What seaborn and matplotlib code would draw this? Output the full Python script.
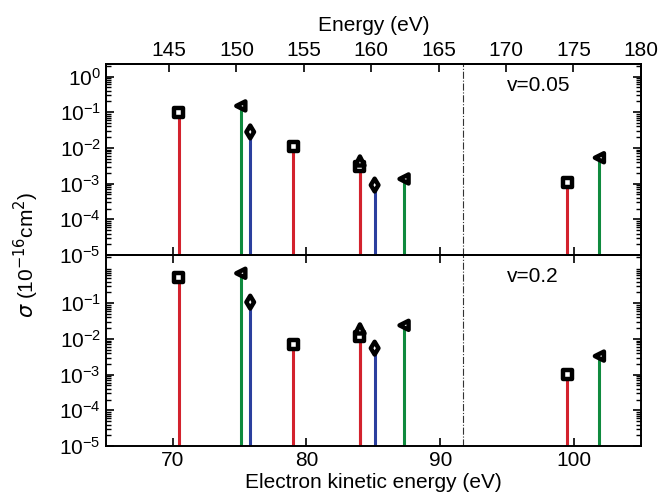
import numpy as np
import pandas as pd
import matplotlib
matplotlib.use('Agg')
import matplotlib.pyplot as plt
import matplotlib.ticker as mticker
import seaborn as sns

# line positions (electron kinetic energy, eV) and which series they belong to
kinetic = [70.45, 75.1, 75.8, 79.0, 84.0, 84.0, 85.1, 87.3, 99.5, 101.9]
series = ['sq', 'tri', 'dia', 'sq', 'sq', 'up', 'dia', 'tri', 'sq', 'tri']

# cross sections (10^-16 cm^2) for the two velocities
sigma_v005 = [0.10, 0.15, 0.028, 0.011, 0.0031, 0.0043, 0.00091, 0.00135, 0.0011, 0.0053]
sigma_v02 = [0.54, 0.69, 0.107, 0.0068, 0.012, 0.019, 0.0055, 0.024, 0.00098, 0.0033]

panel_labels = ['v=0.05', 'v=0.2']
threshold = 91.7  # dash-dot line
energy_offset = 75.3  # Energy = kinetic + offset (top axis)

stem_colors = {'sq': '#d3222d', 'up': '#d3222d', 'tri': '#0f8a3e', 'dia': '#2b3f9e'}
marker_map = {'sq': 's', 'up': '^', 'tri': '<', 'dia': 'd'}

sns.set_style('ticks', {'text.color': 'black', 'xtick.color': 'black',
                        'ytick.color': 'black', 'axes.edgecolor': 'black',
                        'axes.labelcolor': 'black', 'axes.axisbelow': False})
plt.rcParams['font.family'] = ['Liberation Sans', 'DejaVu Sans']
plt.rcParams['axes.linewidth'] = 1.4

fig = plt.figure(figsize=(6.69, 5.00), dpi=100)
ax_top = fig.add_axes([0.158, 0.490, 0.800, 0.382])
ax_bot = fig.add_axes([0.158, 0.108, 0.800, 0.382])

ylo, yhi = 1e-5, 2.24

for ax, sig, lab in zip([ax_top, ax_bot], [sigma_v005, sigma_v02], panel_labels):
    df = pd.DataFrame({'E': kinetic, 'sigma': sig, 'series': series})
    ax.set_yscale('log')
    ax.vlines(df['E'], ylo, df['sigma'], colors=[stem_colors[s] for s in df['series']],
              lw=2.2, zorder=2)
    sns.scatterplot(data=df, x='E', y='sigma', style='series', markers=marker_map,
                    color='white', edgecolor='black', linewidth=3.2, s=42,
                    legend=False, ax=ax, zorder=3)
    ax.axvline(threshold, color='#333333', lw=0.8, ls='-.', zorder=1)
    ax.set_xlim(65, 105)
    ax.set_xlabel('')
    ax.set_ylabel('')
    ax.text(0.75, 0.885, lab, transform=ax.transAxes, fontsize=15, va='center', ha='left')
    ax.set_xticks([70, 80, 90, 100])
    for sp in ax.spines.values():
        sp.set_visible(True)

ax_top.set_yticks([1, 1e-1, 1e-2, 1e-3, 1e-4, 1e-5])
ax_bot.set_yticks([1e-1, 1e-2, 1e-3, 1e-4, 1e-5])
for ax in (ax_top, ax_bot):
    ax.set_ylim(ylo, yhi)
    ax.yaxis.set_minor_locator(mticker.LogLocator(base=10, subs=np.arange(2, 10), numticks=100))
    ax.yaxis.set_minor_formatter(mticker.NullFormatter())
    ax.tick_params(which='both', direction='in', top=True, right=True, left=True,
                   labelsize=15, colors='black')
    ax.tick_params(which='major', length=6, width=1.2)
    ax.yaxis.set_tick_params(which='minor', left=True, right=True, length=3.5, width=1.0)
ax_top.tick_params(labelbottom=False, top=False)
ax_bot.set_xlabel('Electron kinetic energy (eV)', fontsize=15, labelpad=2)

# top energy axis
ax_e = ax_top.twiny()
ax_e.set_xlim(65 + energy_offset, 105 + 75)
ax_e.set_xticks(range(145, 181, 5))
ax_e.tick_params(direction='in', length=6, width=1.2, labelsize=15, pad=3, colors='black')
ax_e.set_xlabel('Energy (eV)', fontsize=15, labelpad=7)

fig.text(0.04, 0.49, r'$\sigma$ (10$^{-16}$cm$^{2}$)', rotation=90, fontsize=15,
         ha='center', va='center')

fig.savefig('out.png', dpi=100)
